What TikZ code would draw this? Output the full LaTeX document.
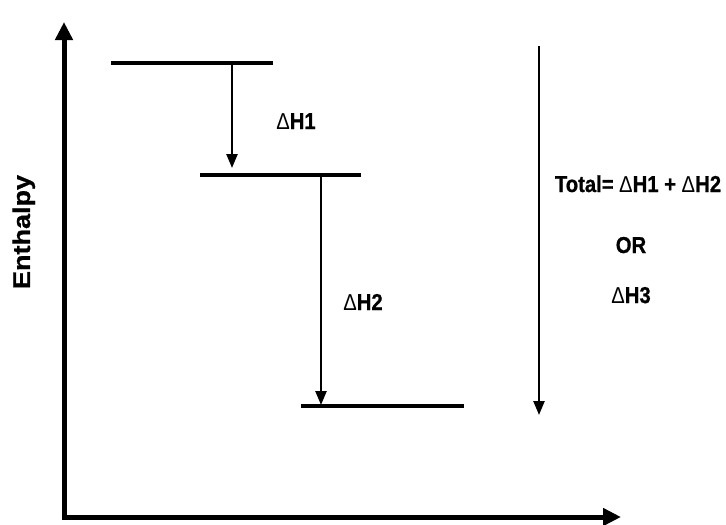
\documentclass[tikz,border=0pt]{standalone}
\usepackage{fontspec}
\setmainfont{Liberation Sans}[BoldFeatures={FakeBold=0.8}]
\newfontfamily\lblfont[FakeStretch=0.88,BoldFeatures={FakeBold=0.8}]{Liberation Sans}
\usetikzlibrary{arrows.meta}
\tikzset{
  axis/.style={line width=5pt, -{Triangle[width=17pt,length=18pt]}},
  level/.style={line width=4pt},
  step arrow/.style={line width=2.5pt, -{Triangle[width=11pt,length=14pt]}},
  lbl/.style={font=\lblfont\fontsize{23}{26}\selectfont\bfseries, inner sep=0pt, anchor=base},
}
\newcommand{\symbolDelta}{Δ}
\newcommand{\dH}{{\mdseries\symbolDelta}H}
\begin{document}
\begin{tikzpicture}[x=1pt,y=-1pt]
\useasboundingbox (0,0) rectangle (726,525);
% axes
\coordinate (O) at (64,517);
\coordinate (Ytop) at (64,22);
\coordinate (Xend) at (621,517);
\draw[axis] ([yshift=2.5pt]O) -- (Ytop);
\draw[axis] ([xshift=-2.5pt]O) -- (Xend);
% levels
\coordinate (L1a) at (111,63);  \coordinate (L1b) at (273,63);
\coordinate (L2a) at (200,175); \coordinate (L2b) at (361,175);
\coordinate (L3a) at (301,406); \coordinate (L3b) at (464,406);
\draw[level] (L1a) -- (L1b);
\draw[level] (L2a) -- (L2b);
\draw[level] (L3a) -- (L3b);
% step arrows
\coordinate (A1s) at (232,63);  \coordinate (A1e) at (232,168);
\coordinate (A2s) at (321,175); \coordinate (A2e) at (321,405);
\coordinate (A3s) at (539,46);  \coordinate (A3e) at (539,415);
\draw[step arrow] (A1s) -- (A1e);
\draw[step arrow] (A2s) -- (A2e);
\draw[step arrow] (A3s) -- (A3e);
% labels
\node[lbl] (dh1) at (296,129) {\dH1};
\node[lbl] (dh2) at (363,310) {\dH2};
\node[lbl] (tot) at (638,192) {Total= \dH1 + \dH2};
\node[lbl] (or) at (631,253) {OR};
\node[lbl] (dh3) at (631,303) {\dH3};
\node[inner sep=0pt, anchor=base, rotate=90, font=\fontsize{27}{30}\selectfont\bfseries] (enth) at (30,232) {\scalebox{1}[0.9]{Enthalpy}};
\end{tikzpicture}
\end{document}
